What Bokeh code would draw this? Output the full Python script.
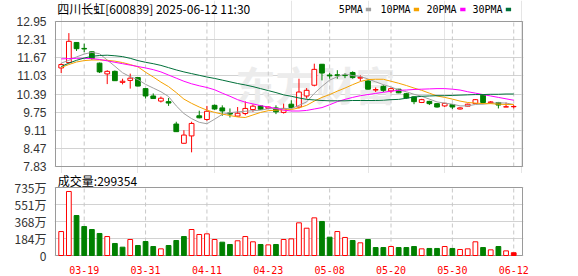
from bokeh.plotting import figure
from bokeh.models import Range1d, FixedTicker, Label, BoxAnnotation, ColumnDataSource, NumeralTickFormatter
from bokeh.layouts import column
from bokeh.embed import file_html
from bokeh.resources import INLINE

# ---------------- data ----------------
dates = ["03-14", "03-17", "03-18", "03-19", "03-20", "03-21", "03-24", "03-25", "03-26", "03-27",
         "03-28", "03-31", "04-01", "04-02", "04-03", "04-07", "04-08", "04-09", "04-10", "04-11",
         "04-14", "04-15", "04-16", "04-17", "04-18", "04-21", "04-22", "04-23", "04-24", "04-25",
         "04-28", "04-29", "04-30", "05-06", "05-07", "05-08", "05-09", "05-12", "05-13", "05-14",
         "05-15", "05-16", "05-19", "05-20", "05-21", "05-22", "05-23", "05-26", "05-27", "05-28",
         "05-29", "05-30", "06-03", "06-04", "06-05", "06-06", "06-09", "06-10", "06-11", "06-12"]

opens = [11.31, 11.50, 12.21, 12.00, 11.88, 11.48, 11.10, 11.19, 10.80, 10.87,
         10.97, 10.58, 10.32, 10.14, 10.12, 9.33, 8.65, 8.91, 9.62, 9.49,
         9.99, 9.90, 9.72, 9.61, 9.70, 9.84, 9.97, 9.88, 9.90, 9.74,
         10.03, 9.93, 10.32, 10.70, 11.44, 11.06, 11.07, 11.06, 11.15, 10.95,
         10.85, 10.53, 10.66, 10.50, 10.56, 10.40, 10.29, 10.09, 10.13, 10.05,
         9.97, 10.02, 9.86, 9.96, 10.05, 10.35, 10.08, 10.09, 9.93, 9.94]
highs = [11.48, 12.54, 12.22, 12.17, 11.90, 11.50, 11.23, 11.22, 10.93, 11.11,
         10.98, 10.59, 10.41, 10.30, 10.25, 9.41, 9.11, 9.41, 9.80, 9.97,
         10.02, 9.99, 9.88, 9.93, 10.13, 10.02, 9.98, 9.95, 9.99, 10.05,
         10.17, 10.93, 10.60, 11.46, 11.45, 11.13, 11.23, 11.12, 11.19, 11.05,
         10.88, 10.62, 10.70, 10.62, 10.57, 10.43, 10.30, 10.22, 10.15, 10.07,
         10.08, 10.03, 9.92, 10.05, 10.21, 10.38, 10.14, 10.11, 10.09, 10.00]
lows = [11.13, 11.48, 11.91, 11.87, 11.60, 11.13, 10.74, 10.85, 10.73, 10.58,
        10.66, 10.23, 10.22, 10.09, 9.97, 9.05, 8.64, 8.33, 9.53, 9.44,
        9.83, 9.62, 9.56, 9.60, 9.64, 9.76, 9.84, 9.86, 9.68, 9.70,
        9.88, 9.88, 10.23, 10.66, 10.87, 10.93, 10.93, 10.95, 10.93, 10.85,
        10.55, 10.46, 10.46, 10.43, 10.42, 10.22, 10.03, 10.07, 10.00, 9.91,
        9.93, 9.86, 9.84, 9.95, 10.04, 10.05, 10.05, 9.88, 9.93, 9.88]
closes = [11.43, 12.25, 11.99, 11.98, 11.64, 11.17, 11.19, 10.86, 10.84, 10.95,
          10.67, 10.32, 10.23, 10.24, 10.07, 9.06, 8.94, 9.35, 9.55, 9.78,
          9.86, 9.79, 9.68, 9.71, 9.88, 9.96, 9.85, 9.93, 9.76, 9.88,
          9.91, 10.46, 10.52, 11.26, 11.13, 11.03, 11.04, 11.04, 10.97, 10.98,
          10.56, 10.55, 10.52, 10.58, 10.43, 10.25, 10.12, 10.19, 10.05, 9.93,
          10.06, 9.93, 9.90, 10.03, 10.19, 10.09, 10.11, 10.00, 9.94, 9.95]

ma5 = [11.48, 11.58, 11.70, 11.80, 11.86, 11.81, 11.59, 11.37, 11.14, 11.00,
       10.90, 10.73, 10.60, 10.47, 10.30, 9.97, 9.70, 9.52, 9.39, 9.34,
       9.50, 9.67, 9.73, 9.76, 9.78, 9.80, 9.82, 9.87, 9.88, 9.88,
       9.87, 9.99, 10.11, 10.41, 10.66, 10.88, 11.00, 11.10, 11.04, 11.01,
       10.92, 10.82, 10.72, 10.64, 10.53, 10.47, 10.38, 10.31, 10.21, 10.11,
       10.07, 10.03, 9.97, 9.97, 10.02, 10.03, 10.06, 10.08, 10.07, 10.02]
ma10 = [11.33, 11.43, 11.52, 11.57, 11.59, 11.59, 11.58, 11.55, 11.50, 11.43,
        11.35, 11.16, 10.99, 10.81, 10.65, 10.44, 10.21, 10.06, 9.93, 9.82,
        9.74, 9.68, 9.63, 9.58, 9.56, 9.65, 9.74, 9.80, 9.82, 9.83,
        9.84, 9.90, 9.99, 10.14, 10.27, 10.37, 10.49, 10.60, 10.72, 10.83,
        10.90, 10.91, 10.91, 10.84, 10.77, 10.69, 10.60, 10.52, 10.42, 10.32,
        10.27, 10.21, 10.14, 10.09, 10.07, 10.05, 10.05, 10.03, 10.02, 10.02]
ma20 = [11.63, 11.64, 11.65, 11.65, 11.64, 11.61, 11.56, 11.51, 11.46, 11.41,
        11.36, 11.31, 11.25, 11.17, 11.06, 10.95, 10.84, 10.75, 10.68, 10.62,
        10.54, 10.42, 10.31, 10.19, 10.10, 10.04, 9.98, 9.93, 9.88, 9.82,
        9.79, 9.79, 9.81, 9.86, 9.91, 10.01, 10.12, 10.20, 10.27, 10.33,
        10.37, 10.41, 10.45, 10.49, 10.52, 10.53, 10.55, 10.56, 10.57, 10.58,
        10.58, 10.56, 10.53, 10.47, 10.42, 10.37, 10.32, 10.27, 10.22, 10.17]
ma30 = [11.36, 11.48, 11.58, 11.66, 11.72, 11.75, 11.76, 11.74, 11.71, 11.65,
        11.57, 11.51, 11.46, 11.40, 11.32, 11.24, 11.17, 11.11, 11.05, 10.99,
        10.94, 10.88, 10.82, 10.76, 10.71, 10.65, 10.58, 10.51, 10.44, 10.36,
        10.31, 10.25, 10.20, 10.18, 10.16, 10.15, 10.15, 10.15, 10.16, 10.16,
        10.16, 10.16, 10.17, 10.19, 10.20, 10.24, 10.28, 10.31, 10.32, 10.33,
        10.33, 10.34, 10.35, 10.36, 10.37, 10.37, 10.38, 10.38, 10.39, 10.39]

volumes = [259, 692, 432, 313, 281, 238, 205, 130, 90, 173,
           108, 151, 97, 72, 108, 162, 205, 281, 227, 234,
           173, 144, 119, 159, 205, 148, 119, 115, 119, 173,
           180, 353, 295, 407, 368, 198, 259, 195, 162, 137,
           173, 86, 86, 97, 86, 86, 97, 72, 76, 76,
           97, 76, 65, 72, 148, 86, 61, 97, 50, 29.94]
vol_up = [1, 1, 0, 0, 0, 0, 1, 0, 0, 1,
          0, 0, 0, 1, 0, 0, 0, 1, 1, 1,
          1, 0, 0, 1, 1, 1, 0, 1, 0, 1,
          1, 1, 1, 1, 0, 0, 1, 1, 0, 1,
          0, 0, 0, 1, 0, 0, 0, 1, 0, 0,
          1, 0, 1, 1, 1, 0, 1, 0, 1, 1]

price_ticks = [7.83, 8.47, 9.11, 9.75, 10.39, 11.03, 11.67, 12.31, 12.95]
vol_ticks = [0, 184, 368, 551, 735]
vol_tick_labels = ["0", "184万", "368万", "551万", "735万"]
date_tick_labels = ["03-19", "03-31", "04-11", "04-23", "05-08", "05-20", "05-30", "06-12"]
title_text = "四川长虹[600839] 2025-06-12 11:30"
volume_title = "成交量:299354"
ma_names = ["5PMA", "10PMA", "20PMA", "30PMA"]
watermark = "东方财富"

# ---------------- styles / layout ----------------
RED = "#ff0000"
GREEN = "#008000"
MA_COLORS = ["#a0a0a0", "#f5a200", "#ff00ff", "#00703a"]
GRID = "#d2d2d2"
VGRID = "#c8c8c8"
FRAME = "#9a9a9a"

SLOT = 7.67          # px per trading day
X0 = 60.7            # canvas x of first candle
FL, FR = 54, 523     # frame edges (canvas px)
PL, PR = 55, 522     # panel box edges (canvas px)

def xi(px):
    return (px - X0) / SLOT

idx = list(range(len(dates)))
tick_idx = [dates.index(d) for d in date_tick_labels]
is_up = [c >= o for o, c in zip(opens, closes)]
csrc = ColumnDataSource(dict(
    x=idx, h=highs, l=lows,
    top=[max(o, c) for o, c in zip(opens, closes)],
    bot=[min(o, c) for o, c in zip(opens, closes)],
    col=[RED if u else GREEN for u in is_up],
    fill=["white" if u else GREEN for u in is_up],
))
last = len(volumes) - 1
vsrc = ColumnDataSource(dict(
    x=idx, top=volumes,
    col=[RED if u else GREEN for u in vol_up],
    fill=[(RED if i == last else "white") if u else GREEN for i, u in enumerate(vol_up)],
))

xr = Range1d(xi(FL), xi(FR))
box_l, box_r = xi(PL), xi(PR)

# price panel: frame spans canvas y 0..173, 12.95 at y=21, 7.83 at y=166
P_H = 173
pu = (price_ticks[-1] - price_ticks[0]) / 145.0
p = figure(width=578, height=P_H, x_range=xr,
           y_range=Range1d(price_ticks[0] - (P_H - 166) * pu, price_ticks[-1] + 21 * pu),
           output_backend="svg", toolbar_location=None, x_axis_location=None,
           min_border_left=FL, min_border_right=578 - FR, min_border_top=0, min_border_bottom=0)
p.outline_line_color = None
p.yaxis.ticker = FixedTicker(ticks=price_ticks)
p.yaxis.formatter = NumeralTickFormatter(format="0.00")
p.yaxis.axis_line_color = None
p.yaxis.major_tick_line_color = None
p.yaxis.minor_tick_line_color = None
p.yaxis.major_label_text_font = "Liberation Sans"
p.yaxis.major_label_text_font_size = "12px"
p.yaxis.major_label_text_color = "#333333"
p.yaxis.major_label_standoff = 2
p.ygrid.grid_line_color = GRID

p.segment(x0=tick_idx, y0=price_ticks[0], x1=tick_idx, y1=price_ticks[-1],
          line_color=VGRID, line_dash="4 3", line_width=1)
p.quad(left=box_l, right=box_r, bottom=price_ticks[0], top=price_ticks[-1],
       fill_color=None, line_color=FRAME, line_width=1)

p.add_layout(Label(x=181, y=P_H - 83, x_units="screen", y_units="screen", text=watermark,
                   text_font="Noto Sans CJK SC", text_font_size="40px", text_font_style="bold",
                   text_color="#ececec", text_baseline="middle", level="underlay"))

p.segment(x0="x", y0="h", x1="x", y1="l", source=csrc, line_color="col", line_width=1)
p.vbar(x="x", width=0.62, top="top", bottom="bot", source=csrc,
       fill_color="fill", line_color="col", line_width=1)

for ser, c in zip([ma5, ma10, ma20, ma30], MA_COLORS):
    p.line(idx, ser, line_color=c, line_width=1)

p.add_layout(Label(x=2.7, y=P_H - 8, x_units="screen", y_units="screen", text=title_text,
                   text_font="Noto Sans CJK SC", text_font_size="12px", text_color="#000000",
                   text_baseline="middle"))
leg_x = [338.3, 380.0, 426.0, 472.0]
box_x = [365.3, 413.3, 459.7, 505.3]
for name, c, lx, bx in zip(ma_names, MA_COLORS, leg_x, box_x):
    p.add_layout(Label(x=lx - FL, y=P_H - 8.5, x_units="screen", y_units="screen", text=name,
                       text_font="DejaVu Sans Mono", text_font_size="10px", text_color="#000000",
                       text_baseline="middle"))
    p.add_layout(BoxAnnotation(left=bx - FL, right=bx - FL + 5.3, bottom=P_H - 10.7, top=P_H - 7.2,
                               left_units="screen", right_units="screen",
                               bottom_units="screen", top_units="screen",
                               fill_color=c, fill_alpha=1, line_color=None))

# volume panel: canvas y 173..276, frame 173..256, 735 at y=187, 0 at y=255
V_H = 276 - P_H
vu = vol_ticks[-1] / 68.0
v_top_px = 187 - P_H
v = figure(width=578, height=V_H, x_range=xr,
           y_range=Range1d(-1 * vu, vol_ticks[-1] + v_top_px * vu),
           output_backend="svg", toolbar_location=None,
           min_border_left=FL, min_border_right=578 - FR, min_border_top=0, min_border_bottom=20)
v.outline_line_color = None
v.yaxis.ticker = FixedTicker(ticks=vol_ticks)
v.yaxis.major_label_overrides = {t: lab for t, lab in zip(vol_ticks, vol_tick_labels)}
v.yaxis.axis_line_color = None
v.yaxis.major_tick_line_color = None
v.yaxis.minor_tick_line_color = None
v.yaxis.major_label_text_font = "Noto Sans CJK SC"
v.yaxis.major_label_text_font_size = "12px"
v.yaxis.major_label_text_color = "#333333"
v.yaxis.major_label_standoff = 2
v.xaxis.ticker = FixedTicker(ticks=tick_idx)
v.xaxis.major_label_overrides = {t: lab for t, lab in zip(tick_idx, date_tick_labels)}
v.xaxis.axis_line_color = None
v.xaxis.major_tick_line_color = None
v.xaxis.minor_tick_line_color = None
v.xaxis.major_label_text_font = "DejaVu Sans Mono"
v.xaxis.major_label_text_font_size = "10px"
v.xaxis.major_label_text_color = RED
v.xaxis.major_label_standoff = 3
v.ygrid.grid_line_color = GRID
v.xgrid.grid_line_color = None

v.segment(x0=tick_idx, y0=0, x1=tick_idx, y1=vol_ticks[-1],
          line_color=VGRID, line_dash="4 3", line_width=1)
v.quad(left=box_l, right=box_r, bottom=0, top=vol_ticks[-1],
       fill_color=None, line_color=FRAME, line_width=1)

v.vbar(x="x", width=0.62, top="top", bottom=0, source=vsrc,
       fill_color="fill", line_color="col", line_width=1)

v.add_layout(Label(x=3.3, y=256 - 179.5, x_units="screen", y_units="screen", text=volume_title,
                   text_font="Noto Sans CJK SC", text_font_size="12px", text_color="#000000",
                   text_baseline="middle"))

layout = column(p, v, spacing=0)
open("out.html", "w").write(file_html(layout, INLINE))
